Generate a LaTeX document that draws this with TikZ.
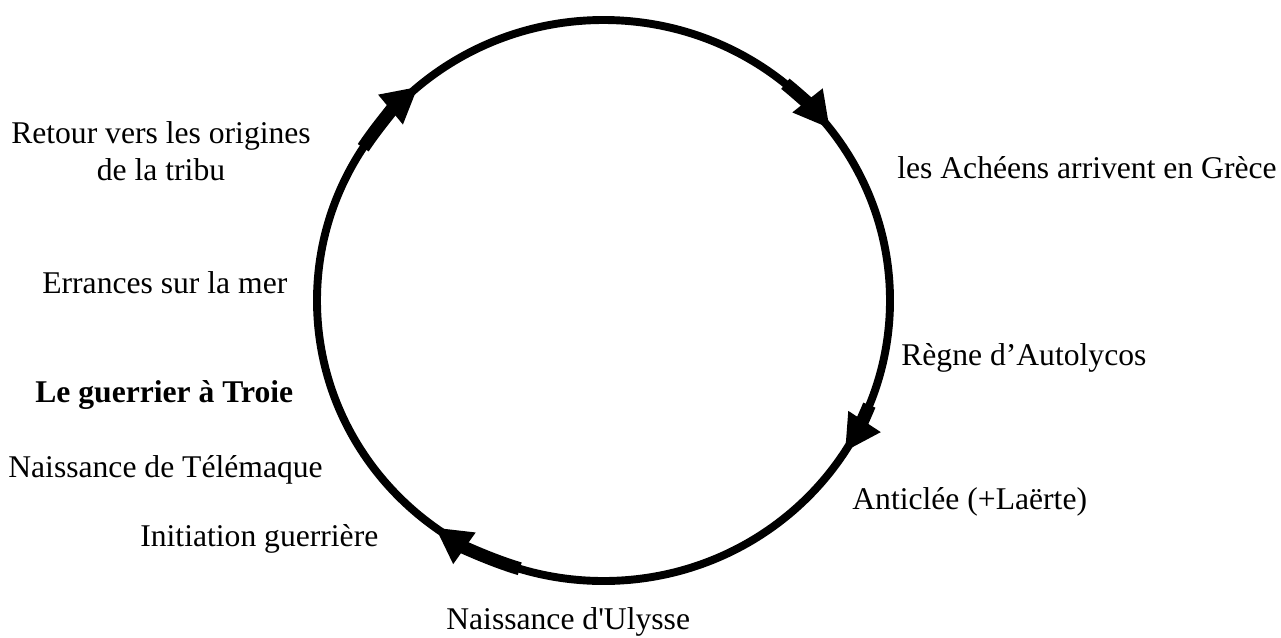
\documentclass[tikz,border=0pt]{standalone}
\usepackage{fontspec}
\setmainfont{Liberation Serif}
\newfontfamily\plainfont{Liberation Serif}
\usetikzlibrary{arrows.meta}

\begin{document}
\begin{tikzpicture}[x=0.02cm,y=-0.02cm,
  lbl/.style={inner sep=0pt,anchor=base west,font=\fontsize{18}{21}\selectfont},
  cyc/.style={line width=4.5pt},
  turn/.style={line width=7.5pt,-{Triangle[length=0.72cm,width=0.72cm]}}]
\useasboundingbox (0,0) rectangle (1281,637);

% Cycle
\coordinate (O) at (603.5,300.5);
\draw[cyc] (O) ellipse [x radius=286.5,y radius=280.5];

% Arrows on the cycle (clockwise)
\draw[turn] (O) ++(-147:286.5 and 280.5) arc[start angle=-147,end angle=-130.3,x radius=286.5,y radius=280.5];
\draw[turn] (O) ++(-50.6:286.5 and 280.5) arc[start angle=-50.6,end angle=-37.8,x radius=286.5,y radius=280.5];
\draw[turn] (O) ++(21.9:286.5 and 280.5) arc[start angle=21.9,end angle=32.6,x radius=286.5,y radius=280.5];
\draw[turn] (O) ++(-253:286.5 and 280.5) arc[start angle=-253,end angle=-234,x radius=286.5,y radius=280.5];

% Labels
\node[lbl,anchor=base,align=center] (retour) at (161,180) {Retour vers les origines\\de la tribu};
\node[lbl] (acheens) at (897,178) {les Achéens arrivent en Grèce};
\node[lbl] (errances) at (42,293) {Errances sur la mer};
\node[lbl] (regne) at (901,365) {Règne d’Autolycos};
\node[lbl] (guerrier) at (35,402) {\bfseries Le guerrier à Troie};
\node[lbl] (telemaque) at (8,477) {Naissance de Télémaque};
\node[lbl] (anticlee) at (852,509) {Anticlée (+Laërte)};
\node[lbl] (initiation) at (140,546) {Initiation guerrière};
\node[lbl] (ulysse) at (446,629) {Naissance d{\plainfont '}Ulysse};
\end{tikzpicture}
\end{document}
